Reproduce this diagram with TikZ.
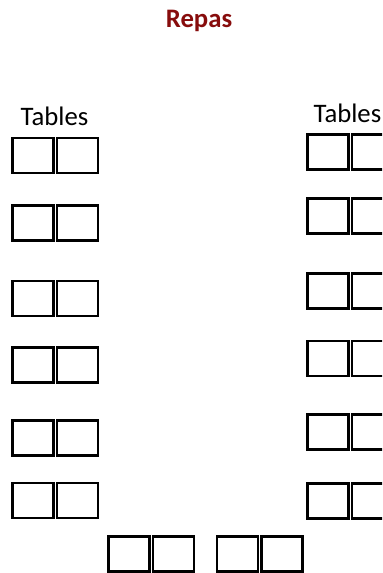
\documentclass[tikz,border=0pt]{standalone}
\usepackage{fontspec}
\setmainfont{Carlito}
\usetikzlibrary{positioning}
\definecolor{repasred}{RGB}{135,12,12}

\begin{document}
\begin{tikzpicture}[x=0.025cm, y=-0.025cm,
    seat/.style={draw=black, line width=1.7pt, minimum width=1.025cm,
        minimum height=0.875cm, inner sep=0pt, outer sep=0pt},
    label/.style={font=\fontsize{19}{21}\selectfont, inner sep=0pt}]

    \clip (0,0) rectangle (382,573);

    % title
    \node[label, font=\fontsize{19}{21}\selectfont\bfseries, text=repasred,
        anchor=base] (title) at (199,27) {Repas};

    % left column
    \node[label, anchor=base] (leftlabel) at (54.5,125) {Tables};
    \foreach \y [count=\i] in {155.5, 223, 298.5, 365, 438, 500.5} {
        \node[seat] (left\i a) at (33,\y) {};
        \node[seat] (left\i b) at (77.5,\y) {};
    }

    % right column
    \node[label, anchor=base east] (rightlabel) at (381.5,122) {Tables};
    \foreach \y [count=\i] in {152, 216, 291, 358.5, 432, 501} {
        \node[seat] (right\i a) at (328,\y) {};
        \node[seat] (right\i b) at (372.5,\y) {};
    }

    % bottom row
    \foreach \x [count=\i] in {129, 237.5} {
        \node[seat] (bottom\i a) at (\x,554) {};
        \node[seat] (bottom\i b) at (\x+44.5,554) {};
    }

\end{tikzpicture}
\end{document}
